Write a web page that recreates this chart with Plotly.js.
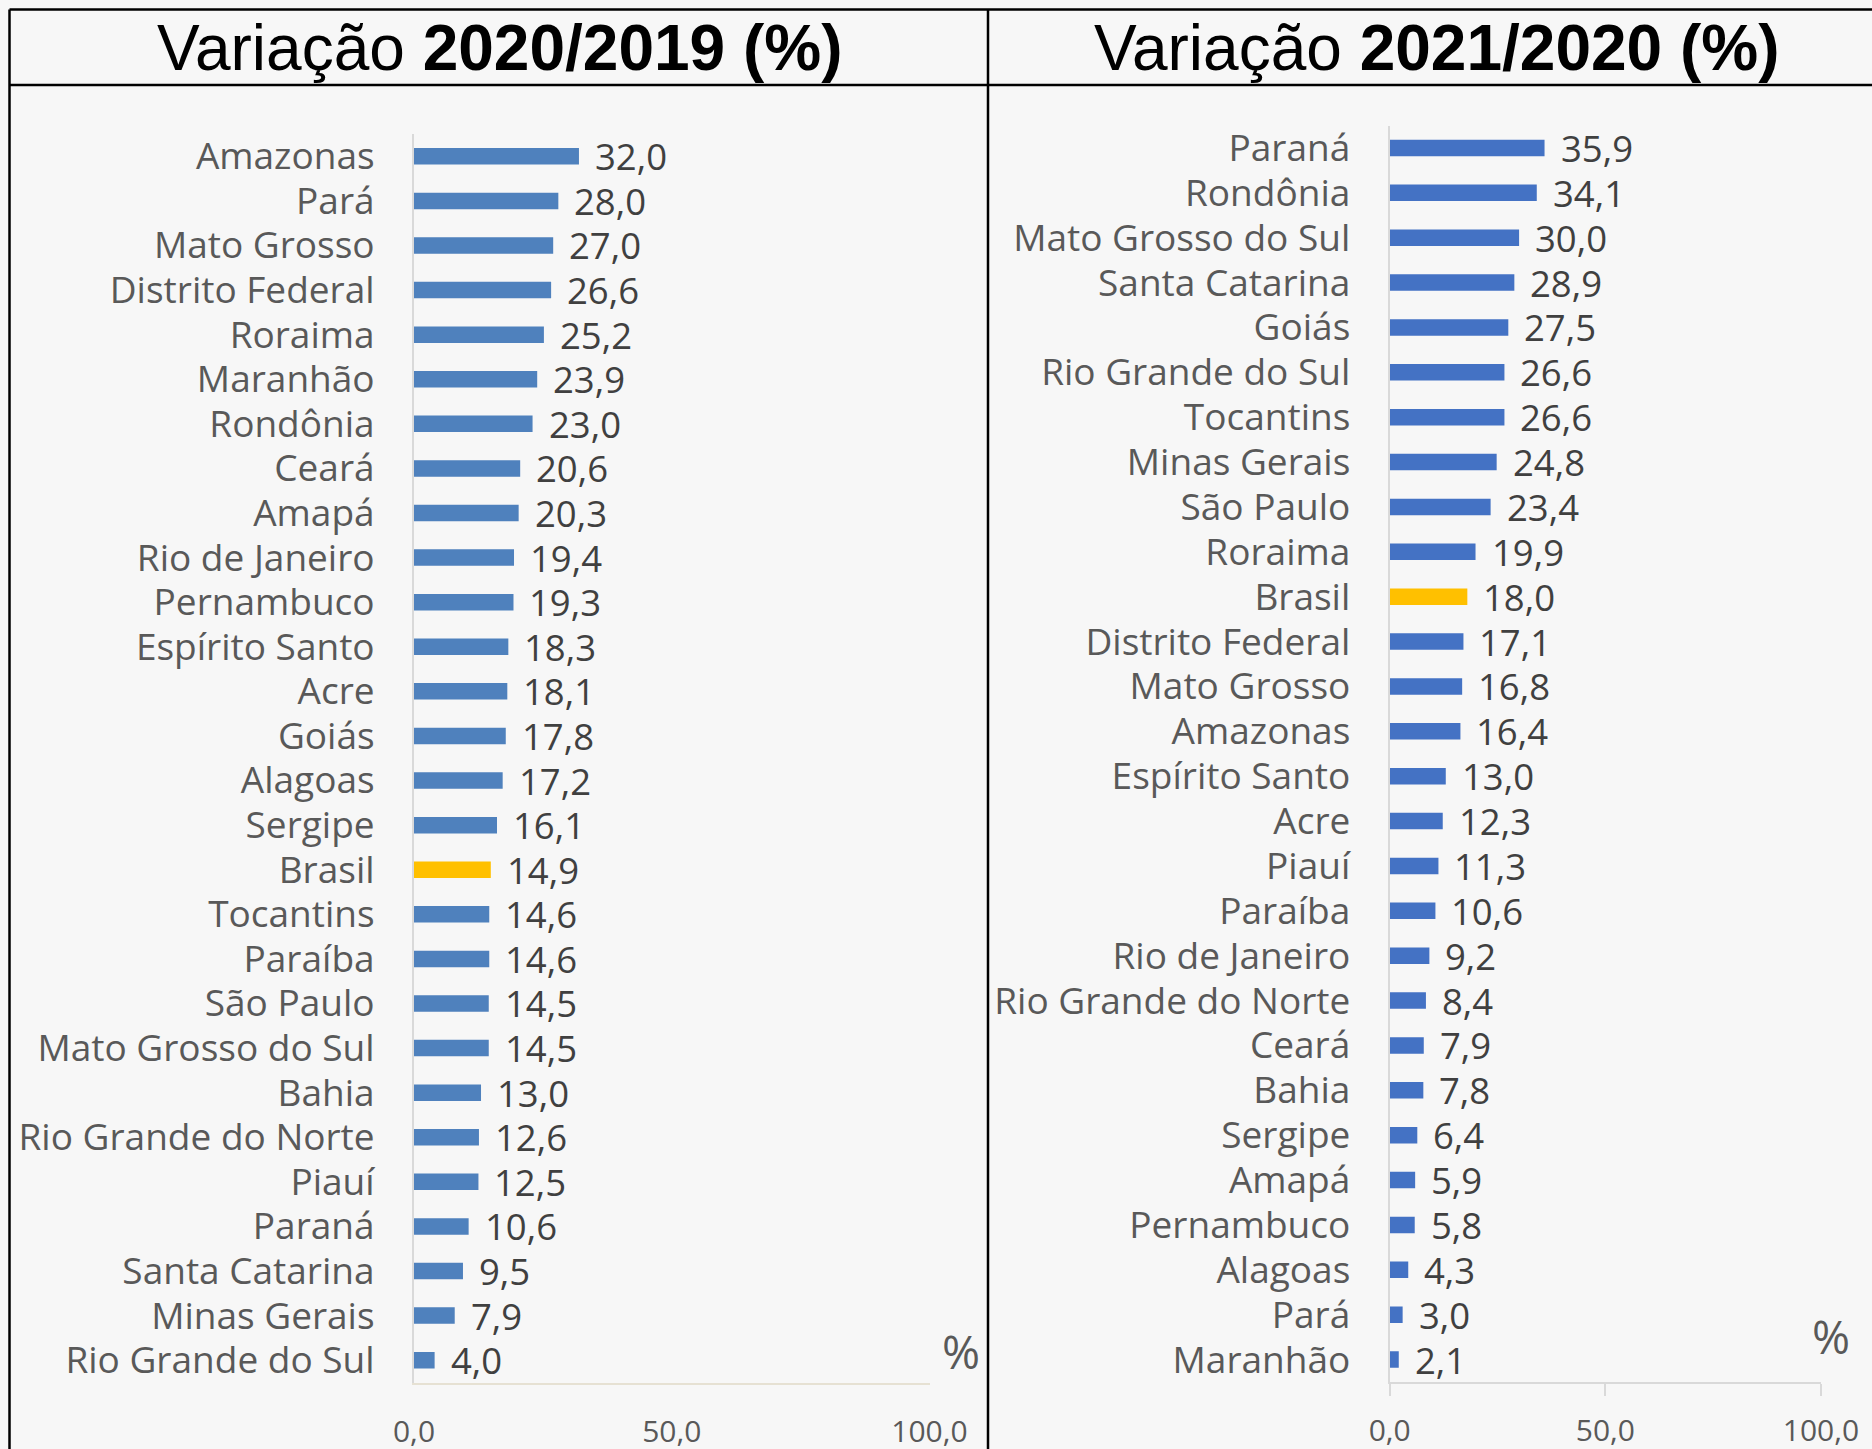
<!DOCTYPE html>
<html>
<head>
<meta charset="utf-8">
<script src="https://cdn.plot.ly/plotly-3.0.1.min.js"></script>
<style>
  html, body { margin: 0; padding: 0; background: #f7f7f7; }
  #chart { width: 1872px; height: 1449px; }
</style>
</head>
<body>
<div id="chart"></div>
<script>
// ---- Data ----
const states2020 = ["Amazonas","Pará","Mato Grosso","Distrito Federal","Roraima","Maranhão","Rondônia","Ceará","Amapá","Rio de Janeiro","Pernambuco","Espírito Santo","Acre","Goiás","Alagoas","Sergipe","Brasil","Tocantins","Paraíba","São Paulo","Mato Grosso do Sul","Bahia","Rio Grande do Norte","Piauí","Paraná","Santa Catarina","Minas Gerais","Rio Grande do Sul"];
const values2020 = [32.0,28.0,27.0,26.6,25.2,23.9,23.0,20.6,20.3,19.4,19.3,18.3,18.1,17.8,17.2,16.1,14.9,14.6,14.6,14.5,14.5,13.0,12.6,12.5,10.6,9.5,7.9,4.0];

const states2021 = ["Paraná","Rondônia","Mato Grosso do Sul","Santa Catarina","Goiás","Rio Grande do Sul","Tocantins","Minas Gerais","São Paulo","Roraima","Brasil","Distrito Federal","Mato Grosso","Amazonas","Espírito Santo","Acre","Piauí","Paraíba","Rio de Janeiro","Rio Grande do Norte","Ceará","Bahia","Sergipe","Amapá","Pernambuco","Alagoas","Pará","Maranhão"];
const values2021 = [35.9,34.1,30.0,28.9,27.5,26.6,26.6,24.8,23.4,19.9,18.0,17.1,16.8,16.4,13.0,12.3,11.3,10.6,9.2,8.4,7.9,7.8,6.4,5.9,5.8,4.3,3.0,2.1];

const xTicks = [0, 50, 100];
const titleLeft = "Variação <b>2020/2019 (%)</b>";
const titleRight = "Variação <b>2021/2020 (%)</b>";
const unitLabel = "%";

// ---- Styles ----
const W = 1872, H = 1449;
const px = v => v / W;
const py = v => 1 - v / H;
const FONT = "Open Sans, Lato, sans-serif";
const BLUE_L = "#4f81bd", BLUE_R = "#4472c4", GOLD = "#ffc000";

const fmt = v => v.toFixed(1).replace(".", ",");

const traces = [
  {
    type: "bar", orientation: "h",
    x: values2020, y: states2020,
    xaxis: "x", yaxis: "y",
    marker: { color: states2020.map(s => s === "Brasil" ? GOLD : BLUE_L),
              line: { width: 0 } },
    hoverinfo: "x+y"
  },
  {
    type: "bar", orientation: "h",
    x: values2021, y: states2021,
    xaxis: "x2", yaxis: "y2",
    marker: { color: states2021.map(s => s === "Brasil" ? GOLD : BLUE_R),
              line: { width: 0 } },
    hoverinfo: "x+y"
  }
];

const labelFont = { family: FONT, size: 36.5, color: "#404040" };
const annotations = [];
states2020.forEach((s, i) => annotations.push({
  x: values2020[i], y: s, xref: "x", yref: "y",
  text: fmt(values2020[i]), showarrow: false,
  xanchor: "left", yanchor: "middle", xshift: 14, yshift: 0,
  font: labelFont
}));
states2021.forEach((s, i) => annotations.push({
  x: values2021[i], y: s, xref: "x2", yref: "y2",
  text: fmt(values2021[i]), showarrow: false,
  xanchor: "left", yanchor: "middle", xshift: 14, yshift: 0,
  font: labelFont
}));
annotations.push(
  { x: px(499), y: py(48), xref: "paper", yref: "paper", text: titleLeft, showarrow: false,
    xanchor: "center", yanchor: "middle",
    font: { family: "Liberation Sans, Arial, sans-serif", size: 64, color: "#000" } },
  { x: px(1436), y: py(48), xref: "paper", yref: "paper", text: titleRight, showarrow: false,
    xanchor: "center", yanchor: "middle",
    font: { family: "Liberation Sans, Arial, sans-serif", size: 64, color: "#000" } },
  { x: px(961), y: py(1351), xref: "paper", yref: "paper", text: unitLabel, showarrow: false,
    xanchor: "center", yanchor: "middle",
    font: { family: FONT, size: 46, color: "#595959" } },
  { x: px(1831), y: py(1336), xref: "paper", yref: "paper", text: unitLabel, showarrow: false,
    xanchor: "center", yanchor: "middle",
    font: { family: FONT, size: 46, color: "#595959" } }
);

const lineCol = "#000000";
const shapes = [
  { type: "line", xref: "paper", yref: "paper", x0: px(9.5), x1: 1.01, y0: py(9.5), y1: py(9.5), line: { color: lineCol, width: 2.5 } },
  { type: "line", xref: "paper", yref: "paper", x0: px(9.5), x1: 1.01, y0: py(85), y1: py(85), line: { color: lineCol, width: 2.5 } },
  { type: "line", xref: "paper", yref: "paper", x0: px(9.5), x1: px(9.5), y0: py(9.5), y1: -0.01, line: { color: lineCol, width: 2.5 } },
  { type: "line", xref: "paper", yref: "paper", x0: px(988), x1: px(988), y0: py(9.5), y1: -0.01, line: { color: lineCol, width: 2.5 } }
];

const catFont = { family: FONT, size: 37, color: "#595959" };
const tickFont = { family: FONT, size: 30, color: "#595959" };

const layout = {
  width: W, height: H,
  margin: { l: 0, r: 0, t: 0, b: 0 },
  paper_bgcolor: "#f7f7f7", plot_bgcolor: "#f7f7f7",
  showlegend: false,
  separators: ",.",
  bargap: 0.63,
  xaxis: {
    domain: [px(414), px(929.5)], anchor: "y", range: [0, 100],
    tickvals: xTicks, tickformat: ".1f", showgrid: false, zeroline: false,
    showline: true, linecolor: "#e6e1d3", linewidth: 2,
    ticks: "", ticklabelstandoff: 21, tickfont: tickFont, fixedrange: true
  },
  yaxis: {
    domain: [py(1382.5), py(134)], anchor: "x",
    type: "category", categoryorder: "array", categoryarray: states2020,
    range: [states2020.length - 0.5, -0.5],
    showgrid: false, zeroline: false, showline: true, linecolor: "#d9d9d9", linewidth: 2,
    ticks: "", ticklabelstandoff: 30, tickfont: catFont, fixedrange: true
  },
  xaxis2: {
    domain: [px(1389.7), px(1821)], anchor: "y2", range: [0, 100],
    tickvals: xTicks, tickformat: ".1f", showgrid: false, zeroline: false,
    showline: true, linecolor: "#d9d9d9", linewidth: 2,
    ticks: "outside", ticklen: 12, tickwidth: 2, tickcolor: "#d9d9d9",
    ticklabelstandoff: 9, tickfont: tickFont, fixedrange: true
  },
  yaxis2: {
    domain: [py(1382), py(125.5)], anchor: "x2",
    type: "category", categoryorder: "array", categoryarray: states2021,
    range: [states2021.length - 0.5, -0.5],
    showgrid: false, zeroline: false, showline: true, linecolor: "#d9d9d9", linewidth: 2,
    ticks: "", ticklabelstandoff: 30, tickfont: catFont, fixedrange: true
  },
  annotations: annotations,
  shapes: shapes
};

Plotly.newPlot("chart", traces, layout, { staticPlot: true, displayModeBar: false });
</script>
</body>
</html>
